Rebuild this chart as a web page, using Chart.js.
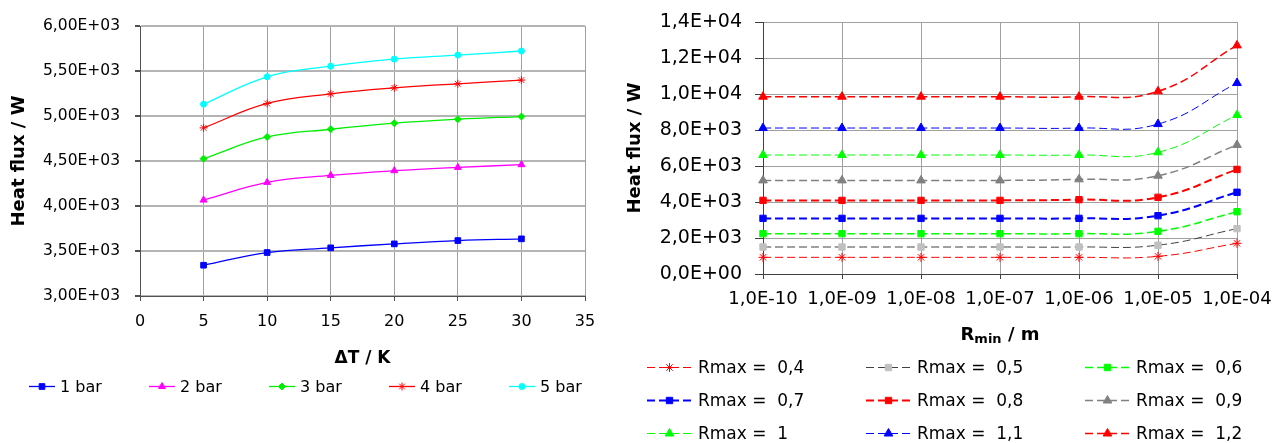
<!DOCTYPE html>
<html>
<head>
<meta charset="utf-8">
<script src="https://cdn.jsdelivr.net/npm/chart.js@4.4.1/dist/chart.umd.min.js"></script>
<style>
  body { margin: 0; background: #fff; width: 1274px; height: 443px; overflow: hidden; position: relative; font-family: "DejaVu Sans", sans-serif; }
  #left { position: absolute; left: 0; top: 0; }
  #right { position: absolute; left: 620px; top: 0; }
  .leg { position: absolute; display: flex; align-items: center; white-space: pre; color: #000; height: 20px; }
  .leg canvas { display: block; }
</style>
</head>
<body>
<canvas id="left" width="620" height="443"></canvas>
<canvas id="right" width="654" height="443"></canvas>
<script>
// left chart: heat flux vs. temperature difference
const deltaT = [5, 10, 15, 20, 25, 30];
const bar1 = [3342, 3483, 3535, 3579, 3616, 3635];
const bar2 = [4066, 4262, 4340, 4392, 4429, 4459];
const bar3 = [4526, 4767, 4853, 4920, 4964, 4994];
const bar4 = [4868, 5139, 5246, 5313, 5358, 5399];
const bar5 = [5131, 5436, 5554, 5632, 5677, 5722];
const pressureLabels = ['1 bar', '2 bar', '3 bar', '4 bar', '5 bar'];

// right chart: heat flux vs. Rmin, one line per Rmax
const rminLabels = ['1,0E-10', '1,0E-09', '1,0E-08', '1,0E-07', '1,0E-06', '1,0E-05', '1,0E-04'];
const rmax04 = [926, 926, 926, 926, 926, 981, 1704];
const rmax05 = [1500, 1500, 1500, 1500, 1500, 1600, 2520];
const rmax06 = [2240, 2240, 2240, 2240, 2240, 2370, 3460];
const rmax07 = [3090, 3090, 3090, 3090, 3090, 3240, 4540];
const rmax08 = [4090, 4090, 4090, 4090, 4130, 4260, 5810];
const rmax09 = [5200, 5200, 5200, 5200, 5260, 5460, 7170];
const rmax10 = [6610, 6610, 6610, 6610, 6610, 6760, 8830];
const rmax11 = [8110, 8110, 8110, 8110, 8110, 8330, 10610];
const rmax12 = [9850, 9850, 9850, 9850, 9850, 10150, 12700];
const rmaxLabels = ['Rmax =  0,4', 'Rmax =  0,5', 'Rmax =  0,6', 'Rmax =  0,7', 'Rmax =  0,8', 'Rmax =  0,9', 'Rmax =  1', 'Rmax =  1,1', 'Rmax =  1,2'];

Chart.defaults.font.family = '"DejaVu Sans"';
Chart.defaults.color = '#000';

function sci(v, d) {
  let [m, e] = Number(v).toExponential(d).split('e');
  const sign = e[0] === '-' ? '-' : '+';
  e = String(Math.abs(+e)).padStart(2, '0');
  return m.replace('.', ',') + 'E' + sign + e;
}

// keep the plot area where layout.padding puts it
function fixX(h) {
  return (s) => { s.height = h; s.paddingLeft = 0; s.paddingRight = 0; };
}
function fixY(w) {
  return (s) => { s.width = w; s.paddingTop = 0; s.paddingBottom = 0; };
}

function leftSet(label, values, color, style, radius) {
  return {
    label: label,
    data: deltaT.map((x, i) => ({ x: x, y: values[i] })),
    borderColor: color,
    backgroundColor: color,
    borderWidth: 1.3,
    pointStyle: style,
    pointRadius: radius,
    pointBorderWidth: 1,
    pointBackgroundColor: color,
    pointBorderColor: color,
    tension: 0.4,
  };
}

const leftSets = [
  leftSet(pressureLabels[0], bar1, '#0000ff', 'rect', 4),
  leftSet(pressureLabels[1], bar2, '#ff00ff', 'triangle', 4),
  leftSet(pressureLabels[2], bar3, '#00ee00', 'rectRot', 3.5),
  leftSet(pressureLabels[3], bar4, '#ff0000', 'star', 4),
  leftSet(pressureLabels[4], bar5, '#00ffff', 'circle', 3),
];

function rightSet(label, values, color, markColor, style, radius, width) {
  return {
    label: label,
    data: values,
    borderColor: color,
    backgroundColor: markColor,
    borderWidth: width,
    borderDash: [8, 4],
    pointStyle: style,
    pointRadius: radius,
    pointBorderWidth: 1,
    pointBackgroundColor: markColor,
    pointBorderColor: markColor,
    tension: 0.45,
  };
}

const rightSets = [
  rightSet(rmaxLabels[0], rmax04, '#ff0000', '#ff0000', 'star', 4.5, 1),
  rightSet(rmaxLabels[1], rmax05, '#404040', '#c0c0c0', 'rect', 4.5, 1),
  rightSet(rmaxLabels[2], rmax06, '#00ff00', '#00ff00', 'rect', 4.5, 1.5),
  rightSet(rmaxLabels[3], rmax07, '#0000ff', '#0000ff', 'rect', 4.5, 2),
  rightSet(rmaxLabels[4], rmax08, '#ff0000', '#ff0000', 'rect', 4.5, 2),
  rightSet(rmaxLabels[5], rmax09, '#808080', '#808080', 'triangle', 5, 1.5),
  rightSet(rmaxLabels[6], rmax10, '#00ff00', '#00ff00', 'triangle', 5, 1),
  rightSet(rmaxLabels[7], rmax11, '#0000ff', '#0000ff', 'triangle', 5, 1),
  rightSet(rmaxLabels[8], rmax12, '#ff0000', '#ff0000', 'triangle', 5, 1.5),
];

new Chart('left', {
  type: 'line',
  data: { datasets: leftSets },
  options: {
    responsive: false,
    animation: false,
    devicePixelRatio: 1,
    layout: { padding: { left: 0, top: 26, right: 35, bottom: 67 } },
    plugins: { legend: { display: false }, tooltip: { enabled: false } },
    scales: {
      x: {
        type: 'linear', min: 0, max: 35,
        ticks: { stepSize: 5, padding: 11, font: { size: 16 } },
        grid: { color: '#a0a0a0', tickLength: 5, tickColor: '#505050' },
        border: { color: '#505050' },
        title: { display: true, text: 'ΔT / K', font: { size: 17, weight: 'bold' }, padding: { top: 0, bottom: 7 } },
        afterFit: fixX(80),
      },
      y: {
        min: 3000, max: 6000,
        ticks: { stepSize: 500, padding: 15, font: { size: 15.5 }, callback: (v) => sci(v, 2) },
        grid: { color: '#b4b4b4', lineWidth: 2, tickLength: 5, tickColor: '#505050' },
        border: { color: '#505050' },
        title: { display: true, text: 'Heat flux / W', font: { size: 18, weight: 'bold' }, padding: { top: 9, bottom: 0 } },
        afterFit: fixY(140),
      },
    },
  },
});

// x title with subscript "min"
const rminTitle = {
  id: 'rminTitle',
  afterDraw(chart) {
    const { ctx, chartArea } = chart;
    const parts = [['R', 18, 0], ['min', 13, 3], [' / m', 18, 0]];
    ctx.save();
    ctx.fillStyle = '#000';
    ctx.textBaseline = 'alphabetic';
    let w = 0;
    parts.forEach((p) => { ctx.font = 'bold ' + p[1] + 'px "DejaVu Sans"'; w += ctx.measureText(p[0]).width; });
    let x = (chartArea.left + chartArea.right) / 2 - w / 2;
    parts.forEach((p) => {
      ctx.font = 'bold ' + p[1] + 'px "DejaVu Sans"';
      ctx.fillText(p[0], x, 340 + p[2]);
      x += ctx.measureText(p[0]).width;
    });
    ctx.restore();
  },
};

new Chart('right', {
  type: 'line',
  data: { labels: rminLabels, datasets: rightSets },
  plugins: [rminTitle],
  options: {
    responsive: false,
    animation: false,
    devicePixelRatio: 1,
    layout: { padding: { left: 0, top: 22, right: 37, bottom: 99 } },
    plugins: { legend: { display: false }, tooltip: { enabled: false } },
    scales: {
      x: {
        offset: false,
        ticks: { padding: 10, font: { size: 18 }, maxRotation: 0, autoSkip: false },
        grid: { color: '#a0a0a0', tickLength: 5, tickColor: '#404040', offset: false },
        border: { color: '#404040' },
        afterFit: fixX(70),
      },
      y: {
        min: 0, max: 14000,
        ticks: { stepSize: 2000, padding: 13, font: { size: 19 }, callback: (v) => sci(v, 1) },
        grid: { color: '#a0a0a0', tickLength: 8, tickColor: '#404040' },
        border: { color: '#404040' },
        title: { display: true, text: 'Heat flux / W', font: { size: 18, weight: 'bold' }, padding: { top: 5, bottom: 0 } },
        afterFit: fixY(143),
      },
    },
  },
});

// legends drawn as html, symbol taken from each dataset's style
function legendItem(ds, x, y, lineW, gap, fontSize) {
  const box = document.createElement('div');
  box.className = 'leg';
  box.style.left = x + 'px';
  box.style.top = (y - 10) + 'px';
  const c = document.createElement('canvas');
  c.width = lineW;
  c.height = 20;
  const ctx = c.getContext('2d');
  ctx.strokeStyle = ds.borderColor;
  ctx.lineWidth = ds.borderWidth;
  ctx.setLineDash(ds.borderDash || []);
  ctx.beginPath();
  ctx.moveTo(0, 10.5);
  ctx.lineTo(lineW, 10.5);
  ctx.stroke();
  ctx.setLineDash([]);
  ctx.fillStyle = ds.pointBackgroundColor;
  ctx.strokeStyle = ds.pointBorderColor;
  ctx.lineWidth = 1;
  if (Chart.helpers && Chart.helpers.drawPoint) {
    Chart.helpers.drawPoint(ctx, { pointStyle: ds.pointStyle, radius: ds.pointRadius, rotation: 0, borderWidth: 1 }, lineW / 2, 10.5);
  } else {
    ctx.fillRect(lineW / 2 - 3, 7.5, 6, 6);
  }
  const t = document.createElement('span');
  t.textContent = ds.label;
  t.style.fontSize = fontSize + 'px';
  t.style.marginLeft = gap + 'px';
  box.appendChild(c);
  box.appendChild(t);
  document.body.appendChild(box);
}

leftSets.forEach((ds, i) => legendItem(ds, 29 + 120 * i, 386, 26, 5, 16));

const colX = [647, 866, 1085];
const rowY = [367, 400, 433];
rightSets.forEach((ds, i) => legendItem(ds, colX[i % 3], rowY[Math.floor(i / 3)], 45, 6, 17));
</script>
</body>
</html>
